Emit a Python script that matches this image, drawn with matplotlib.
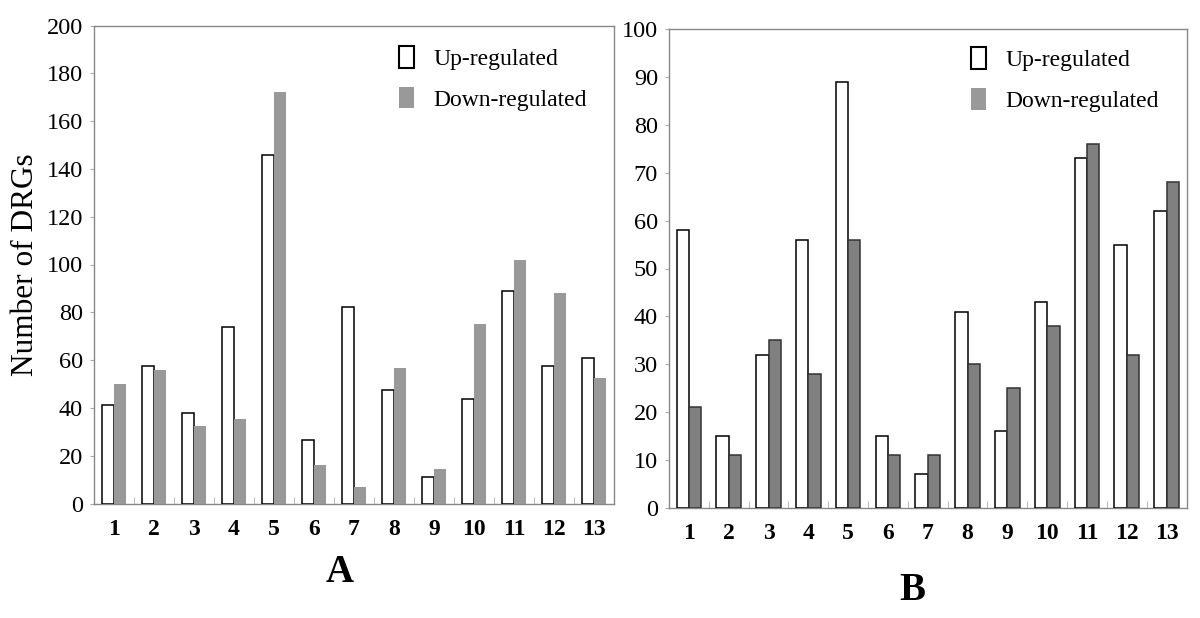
import matplotlib
matplotlib.use("Agg")
import matplotlib.pyplot as plt
import numpy as np
from matplotlib.patches import Patch

categories = ["1", "2", "3", "4", "5", "6", "7", "8", "9", "10", "11", "12", "13"]
a_up = [41.3, 57.4, 37.8, 73.9, 146, 26.5, 82.4, 47.4, 11.1, 43.8, 89.1, 57.4, 61.0]
a_down = [50.0, 55.7, 32.5, 35.4, 172.3, 16.3, 6.8, 56.7, 14.4, 74.9, 101.8, 88.2, 52.4]
b_up = [58, 15, 32, 56, 89, 15, 7, 41, 16, 43, 73, 55, 62]
b_down = [21, 11, 35, 28, 56, 11, 11, 30, 25, 38, 76, 32, 68]
a_yticks = [0, 20, 40, 60, 80, 100, 120, 140, 160, 180, 200]
b_yticks = [0, 10, 20, 30, 40, 50, 60, 70, 80, 90, 100]

plt.rcParams['font.family'] = ['Liberation Serif', 'DejaVu Serif']

fig = plt.figure(figsize=(12, 6.18), dpi=100)
W, H = 1200, 618

def make_axes(l, r, t, b):
    return fig.add_axes([l / W, 1 - b / H, (r - l) / W, (b - t) / H])

axA = make_axes(94, 614, 25.5, 503.5)
axB = make_axes(669, 1186.5, 29, 508)

x = np.arange(1, len(categories) + 1)
w = 0.31

def style(ax, up, down, yticks, down_color, down_edge, legend_xy):
    ax.bar(x - w / 2, up, width=w, color='white', edgecolor='black', linewidth=1.1, zorder=3)
    if down_edge is None:
        ax.bar(x + w / 2, down, width=w, color=down_color, linewidth=0, zorder=3)
    else:
        ax.bar(x + w / 2, down, width=w, color=down_color, edgecolor=down_edge, linewidth=1.1, zorder=3)
    ax.set_xlim(0.5, len(categories) + 0.5)
    ax.set_ylim(yticks[0], yticks[-1])
    ax.set_yticks(yticks)
    ax.set_yticklabels([str(v) for v in yticks], fontsize=17.5)
    ax.set_xticks(x)
    ax.set_xticklabels(categories, fontsize=17, fontweight='bold')
    ax.set_xticks(np.arange(1.5, len(categories), 1.0), minor=True)
    ax.tick_params(axis='x', which='major', length=0, pad=11)
    ax.tick_params(axis='x', which='minor', direction='in', length=5, color='#bbbbbb', width=0.8)
    ax.tick_params(axis='y', which='major', direction='out', length=3, color='#aaaaaa', width=0.8, pad=5)
    for s in ax.spines.values():
        s.set_color('#888888')
        s.set_linewidth(1.0)
    handles = [Patch(facecolor='white', edgecolor='black', linewidth=1.5),
               Patch(facecolor='#999999', edgecolor='none')]
    ax.legend(handles, ['Up-regulated', 'Down-regulated'], loc='upper left',
              bbox_to_anchor=legend_xy, frameon=False, fontsize=17,
              handlelength=0.64, handleheight=1.05, handletextpad=0.8,
              labelspacing=0.7, borderpad=0, borderaxespad=0)

style(axA, a_up, a_down, a_yticks, '#999999', None, (0.587, 0.957))
style(axB, b_up, b_down, b_yticks, '#808080', '#333333', (0.5836, 0.962))

axA.set_ylabel('Number of DRGs', fontsize=22.5, labelpad=5)

fig.text(340 / W, 1 - 572 / H, 'A', fontsize=28, fontweight='bold', ha='center', va='center')
fig.text(912 / W, 1 - 590 / H, 'B', fontsize=28, fontweight='bold', ha='center', va='center')

fig.savefig('out.png', dpi=100)
